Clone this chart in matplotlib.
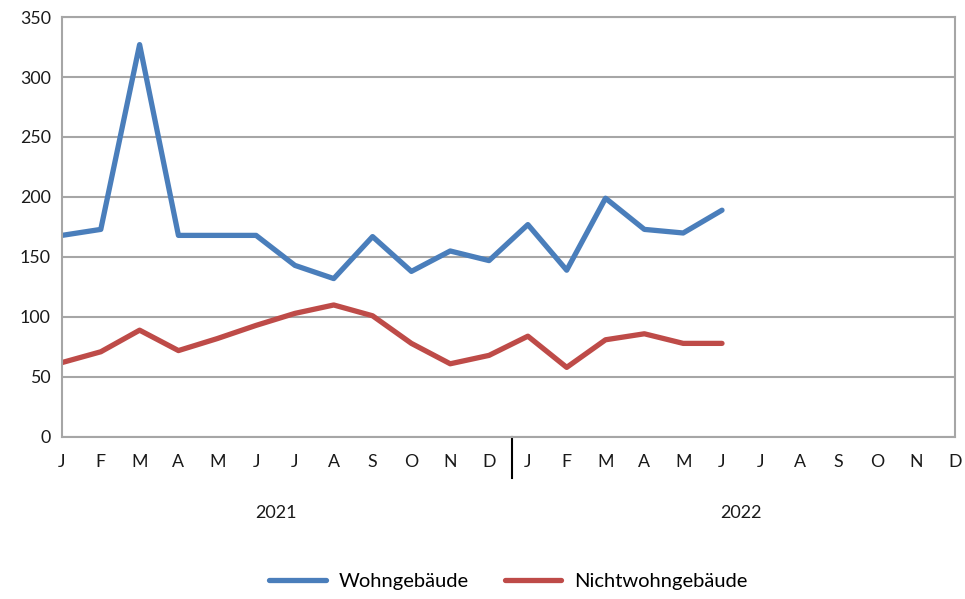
import matplotlib.pyplot as plt
import numpy as np

plt.rcParams['font.family'] = ['Lato', 'DejaVu Sans']

months = ["J", "F", "M", "A", "M", "J", "J", "A", "S", "O", "N", "D"] * 2
years = ["2021", "2022"]
wohn = [168, 173, 327, 168, 168, 168, 143, 132, 167, 138, 155, 147,
        177, 139, 199, 173, 170, 189]
nichtwohn = [62, 71, 89, 72, 82, 93, 103, 110, 101, 78, 61, 68,
             84, 58, 81, 86, 78, 78]

fig = plt.figure(figsize=(9.65, 5.99), dpi=100)
ax = fig.add_axes([0.0642, 0.2705, 0.9896 - 0.0642, 0.9716 - 0.2705])

x = np.arange(len(wohn))
ax.plot(x, wohn, color="#4A7EBB", linewidth=3.8, label="Wohngebäude", solid_capstyle="round")
ax.plot(x, nichtwohn, color="#BE4B48", linewidth=3.8, label="Nichtwohngebäude", solid_capstyle="round")

ax.set_xlim(0, len(months) - 1)
ax.set_ylim(0, 350)
ax.set_yticks(range(0, 351, 50))
ax.yaxis.grid(True, color="#A6A6A6", linewidth=1.5)
ax.set_axisbelow(True)
for s in ax.spines.values():
    s.set_color("#A6A6A6")
    s.set_linewidth(1.5)

ax.set_xticks(range(len(months)))
ax.set_xticklabels(months)
ax.tick_params(axis="both", length=0, labelsize=12.8, colors="#1a1a1a")
ax.tick_params(axis="x", pad=12)
ax.tick_params(axis="y", pad=8)

# year separator and labels
ax.plot([11.6, 11.6], [0, -34], color="black", linewidth=1.5, clip_on=False)
ax.text(5.5, -63, years[0], ha="center", va="center", fontsize=13, color="#1a1a1a")
ax.text(17.5, -63, years[1], ha="center", va="center", fontsize=13, color="#1a1a1a")

fig.legend(loc="center", bbox_to_anchor=(0.527, 0.029), ncol=2, frameon=False,
           fontsize=14.5, handlelength=2.8, handletextpad=0.65, columnspacing=1.8)

fig.savefig("out.png", dpi=100)
